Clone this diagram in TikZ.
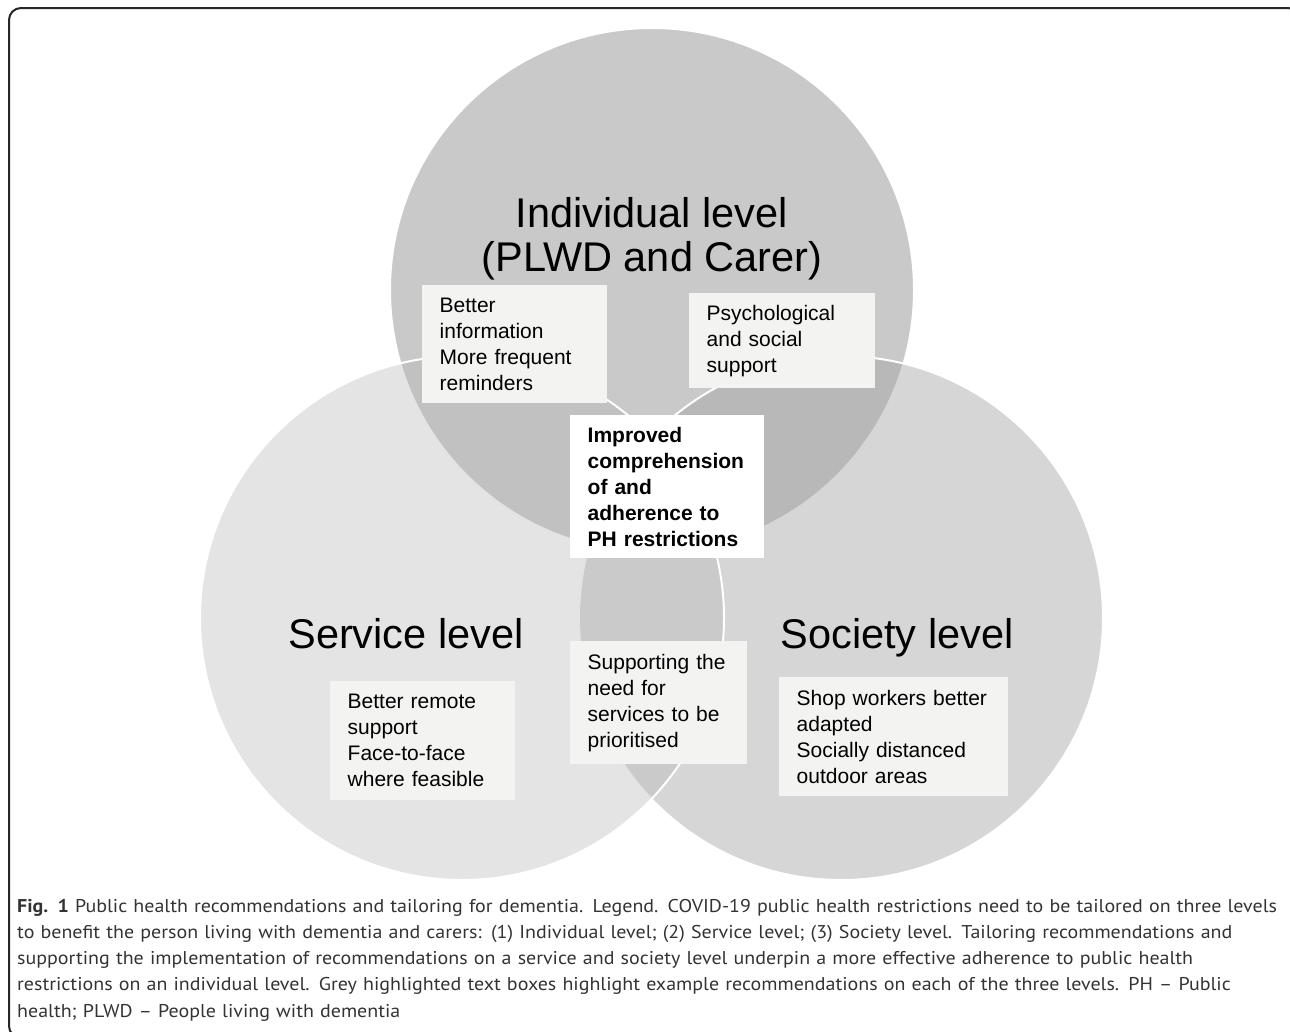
\documentclass[tikz,border=0pt]{standalone}
\usepackage{fontspec}
\setmainfont{Liberation Sans}
\newfontfamily\capfont[FakeStretch=1.08]{PT Sans}
\definecolor{topgray}{RGB}{201,201,201}
\definecolor{rightgray}{RGB}{166,166,166}
\definecolor{leftgray}{RGB}{181,181,181}
\definecolor{boxgray}{RGB}{243,243,242}
\definecolor{capgray}{RGB}{51,51,51}
\tikzset{
  leveltitle/.style={font=\fontsize{41.5}{44}\selectfont, align=center},
  tipbox/.style={fill=boxgray, anchor=north west, align=left, inner xsep=17.5pt,
    inner ysep=0pt, font=\fontsize{21}{26}\selectfont},
}

\begin{document}
\begin{tikzpicture}[x=1pt, y=-1pt]
  % bounding rectangle
  \useasboundingbox (0,0) rectangle (1290,1031);
  \clip (0,0) rectangle (1290,1031);
  \draw[black!85, line width=2pt, rounded corners=12pt] (9,8) rectangle (1300,1038);

  % the three levels: top, right, left
  \foreach \cx/\cy/\col/\op in {652/290/topgray/1, 841/618/rightgray/0.46, 462/618/leftgray/0.37} {
    \path[fill=\col, fill opacity=\op, draw=white, line width=2pt] (\cx,\cy) circle (262pt);
  }

  \node[leveltitle] (indiv) at (652,239) {Individual level\\(PLWD and Carer)};
  \node[leveltitle, anchor=base] (service) at (406,648) {Service level};
  \node[leveltitle, anchor=base] (society) at (897,648) {Society level};

  % recommendation boxes
  \node[tipbox, text width=150pt, minimum height=118pt] (info) at (422,285)
    {Better\\information\\More frequent\\reminders};
  \node[tipbox, text width=151pt, minimum height=95pt] (psych) at (689,293)
    {Psychological\\and social\\support};
  \node[tipbox, fill=white, text width=159pt, minimum height=143pt,
    font=\fontsize{21}{26}\selectfont\bfseries] (core) at (570,415)
    {Improved\\comprehension\\of and\\adherence to\\PH restrictions};
  \node[tipbox, text width=142pt, minimum height=123pt] (priority) at (570,641)
    {Supporting the\\need for\\services to be\\prioritised};
  \node[tipbox, text width=150pt, minimum height=119pt] (remote) at (330,681)
    {Better remote\\support\\Face-to-face\\where feasible};
  \node[tipbox, text width=194pt, minimum height=119pt] (shop) at (779,677)
    {Shop workers better\\adapted\\Socially distanced\\outdoor areas};

  % legend
  \node[font=\capfont\fontsize{18.5}{26.3}\selectfont, text=capgray, align=left,
    text width=1280pt, inner sep=0pt, anchor=base west] (legend) at (17,912)
    {\textbf{Fig. 1} Public health recommendations and tailoring for dementia. Legend. COVID-19 public health restrictions need to be tailored on three levels\\
     to benefit the person living with dementia and carers: (1) Individual level; (2) Service level; (3) Society level. Tailoring recommendations and\\
     supporting the implementation of recommendations on a service and society level underpin a more effective adherence to public health\\
     restrictions on an individual level. Grey highlighted text boxes highlight example recommendations on each of the three levels. PH – Public\\
     health; PLWD – People living with dementia};
\end{tikzpicture}
\end{document}
